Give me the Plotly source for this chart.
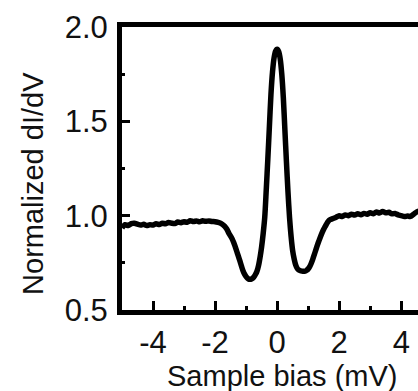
import plotly.graph_objects as go

# Sample bias (mV)
bias = [
    -5.0, -4.9, -4.8, -4.7, -4.6, -4.5, -4.4, -4.3, -4.2, -4.1,
    -4.0, -3.9, -3.8, -3.7, -3.6, -3.5, -3.4, -3.3, -3.2, -3.1,
    -3.0, -2.9, -2.8, -2.7, -2.6, -2.5, -2.4, -2.3, -2.2, -2.1,
    -2.0, -1.9, -1.8, -1.7,
    -1.65, -1.60, -1.55, -1.50, -1.45, -1.40, -1.35, -1.30, -1.25, -1.20,
    -1.15, -1.10, -1.05, -1.00, -0.95, -0.90, -0.85, -0.80, -0.75, -0.70,
    -0.65, -0.60, -0.55, -0.50, -0.45, -0.40, -0.35, -0.30, -0.25, -0.20,
    -0.15, -0.10, -0.05, 0.00, 0.05, 0.10, 0.15, 0.20, 0.25, 0.30,
    0.35, 0.40, 0.45, 0.50, 0.55, 0.60, 0.65, 0.70, 0.75, 0.80,
    0.85, 0.90, 0.95, 1.00, 1.05, 1.10, 1.15, 1.20, 1.25, 1.30,
    1.35, 1.40, 1.45, 1.50, 1.55, 1.60, 1.65,
    1.7, 1.8, 1.9, 2.0, 2.1, 2.2, 2.3, 2.4, 2.5, 2.6,
    2.7, 2.8, 2.9, 3.0, 3.1, 3.2, 3.3, 3.4, 3.5, 3.6,
    3.7, 3.8, 3.9, 4.0, 4.1, 4.2, 4.3, 4.4, 4.5, 4.6,
]

# Normalized dI/dV
didv = [
    0.935, 0.952, 0.948, 0.958, 0.960, 0.955, 0.950, 0.954, 0.948, 0.952,
    0.950, 0.957, 0.953, 0.960, 0.957, 0.964, 0.960, 0.958, 0.966, 0.963,
    0.968, 0.965, 0.973, 0.969, 0.972, 0.968, 0.973, 0.970, 0.972, 0.969,
    0.968, 0.964, 0.958, 0.945,
    0.935, 0.922, 0.905, 0.892, 0.877, 0.858, 0.835, 0.810, 0.785, 0.760,
    0.733, 0.708, 0.690, 0.677, 0.668, 0.663, 0.663, 0.667, 0.675, 0.688,
    0.705, 0.735, 0.780, 0.835, 0.905, 0.990, 1.140, 1.300, 1.470, 1.640,
    1.760, 1.835, 1.872, 1.882, 1.870, 1.830, 1.750, 1.625, 1.455, 1.285,
    1.125, 0.990, 0.890, 0.815, 0.770, 0.738, 0.720, 0.712, 0.708, 0.706,
    0.705, 0.706, 0.710, 0.718, 0.730, 0.748, 0.770, 0.795, 0.820, 0.845,
    0.868, 0.890, 0.910, 0.928, 0.943, 0.958, 0.970,
    0.978, 0.985, 0.992, 1.000, 0.996, 1.004, 1.000, 1.008, 1.003, 1.010,
    1.005, 1.012, 1.008, 1.015, 1.010, 1.020, 1.014, 1.022, 1.015, 1.018,
    1.010, 1.012, 1.004, 1.000, 0.995, 0.998, 0.996, 1.008, 1.020, 1.025,
]

x_tickvals = [-4, -2, 0, 2, 4]
x_ticktext = ["-4", "-2", "0", "2", "4"]
x_minor = [-3, -1, 1, 3]
y_tickvals = [0.5, 1.0, 1.5, 2.0]
y_ticktext = ["0.5", "1.0", "1.5", "2.0"]
y_minor = [0.75, 1.25, 1.75]

FONT = "Liberation Sans, Arial, sans-serif"

fig = go.Figure()
fig.add_trace(go.Scatter(
    x=bias, y=didv, mode="lines",
    line=dict(color="black", width=5.5, shape="spline", smoothing=0.8),
    hoverinfo="skip", showlegend=False,
))

fig.update_xaxes(
    range=[-5.0, 4.54],
    showline=True, linecolor="black", linewidth=5, mirror=True,
    showgrid=False, zeroline=False,
    ticks="inside", ticklen=9, tickwidth=3, tickcolor="black",
    tickvals=x_tickvals, ticktext=x_ticktext,
    tickfont=dict(family=FONT, size=31, color="#111"),
    ticklabelstandoff=1,
    minor=dict(ticks="inside", ticklen=4, tickwidth=3, tickcolor="black",
               tickvals=x_minor),
)
fig.update_yaxes(
    range=[0.5, 2.0],
    showline=True, linecolor="black", linewidth=5, mirror=False,
    showgrid=False, zeroline=False,
    ticks="inside", ticklen=8, tickwidth=3, tickcolor="black",
    tickvals=y_tickvals, ticktext=y_ticktext,
    tickfont=dict(family=FONT, size=31, color="#111"),
    ticklabelstandoff=3,
    minor=dict(ticks="inside", ticklen=3, tickwidth=3, tickcolor="black",
               tickvals=y_minor),
)

fig.add_annotation(
    text="Normalized dI/dV", textangle=-90,
    xref="paper", yref="paper", x=-0.3007, y=0.449,
    xanchor="center", yanchor="middle", showarrow=False,
    font=dict(family=FONT, size=29, color="#111"),
)
fig.add_annotation(
    text="Sample bias (mV)",
    xref="paper", yref="paper", x=0.542, y=-0.233,
    xanchor="center", yanchor="middle", showarrow=False,
    font=dict(family=FONT, size=29, color="#111"),
)

fig.update_layout(
    width=418, height=391,
    margin=dict(l=122, r=0, t=27, b=81, pad=0),
    paper_bgcolor="white", plot_bgcolor="white",
)

fig.write_html(
    "out.html",
    config={"displayModeBar": False},
    post_script="document.body.style.margin='0';document.body.style.overflow='hidden';",
)
